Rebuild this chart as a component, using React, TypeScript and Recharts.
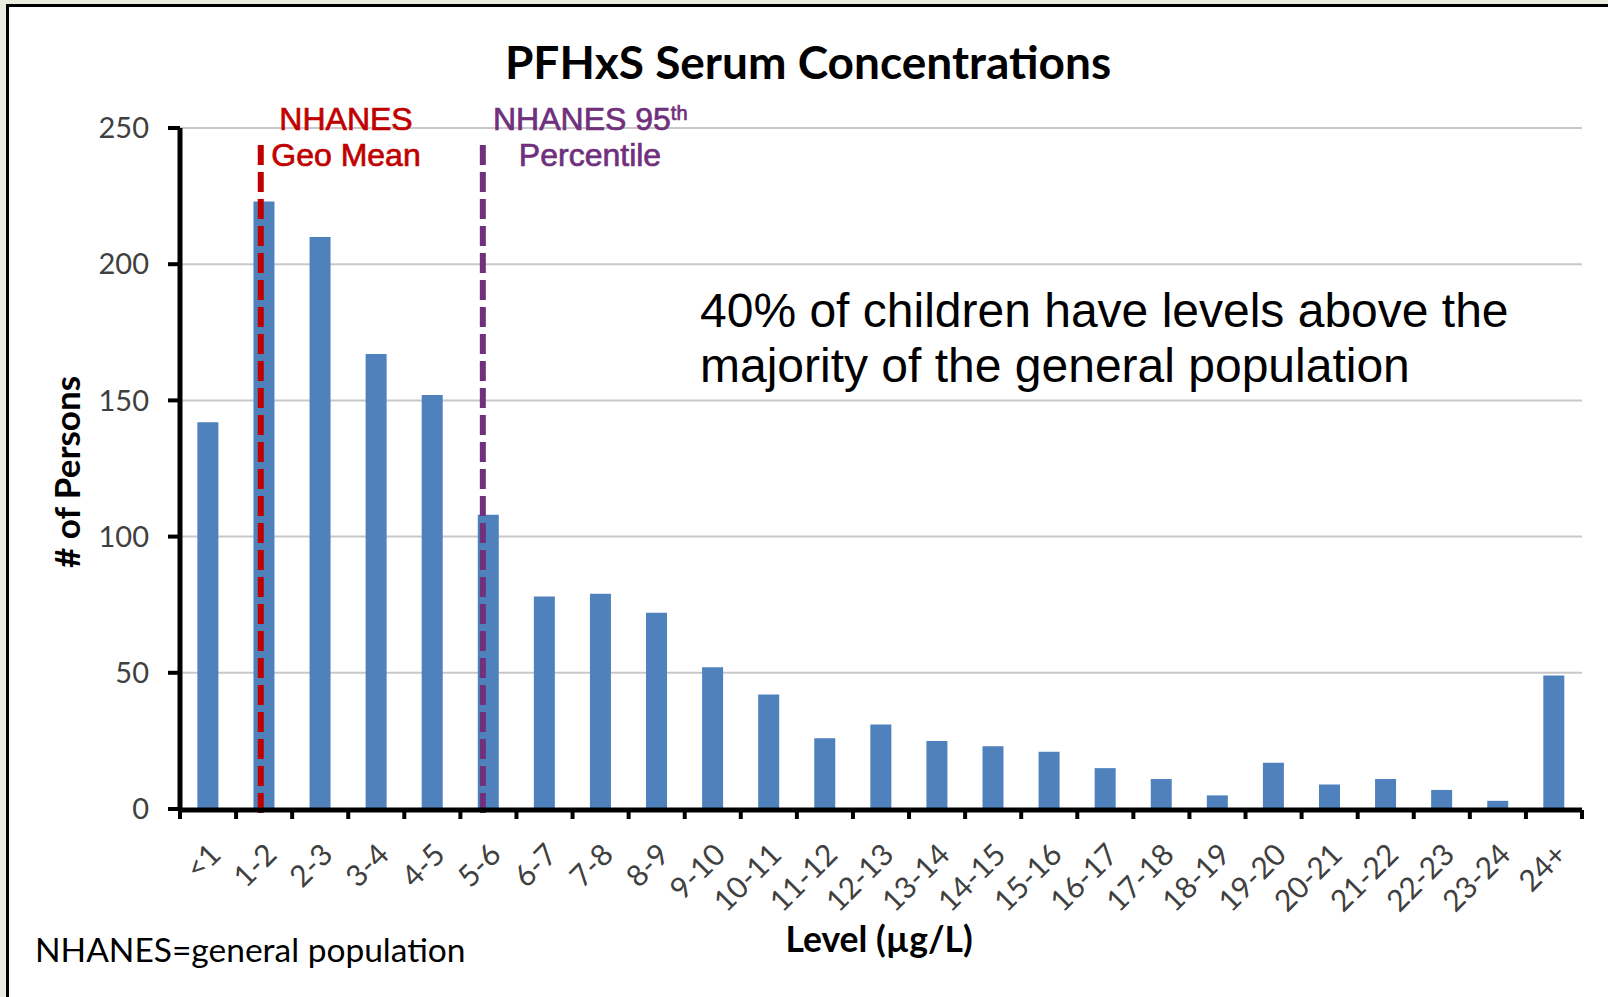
import { Bar, BarChart, CartesianGrid, ReferenceLine, XAxis, YAxis } from "recharts";

const levels = ["<1", "1-2", "2-3", "3-4", "4-5", "5-6", "6-7", "7-8", "8-9", "9-10", "10-11", "11-12", "12-13", "13-14", "14-15", "15-16", "16-17", "17-18", "18-19", "19-20", "20-21", "21-22", "22-23", "23-24", "24+"];
const persons = [142, 223, 210, 167, 152, 108, 78, 79, 72, 52, 42, 26, 31, 25, 23, 21, 15, 11, 5, 17, 9, 11, 7, 3, 49];
const yTicks = [0, 50, 100, 150, 200, 250];
const binEdges = Array.from({ length: levels.length + 1 }, (_, i) => i);
const geoMean = 1.44;
const pct95 = 5.4;

// bin centre on a 0..25 numeric scale, used only by the bin-edge axis
const data = levels.map((range, i) => ({ range, persons: persons[i], mid: i + 0.5 }));

const calibri = "Lato, 'Open Sans', sans-serif";
const arial = "'Liberation Sans', Arial, sans-serif";

function LevelTick({ x, y, payload }: any) {
	const tx = x + 6;
	return (
		<text x={tx} y={y} dy="0.4em" transform={`rotate(-45 ${tx} ${y})`} textAnchor="end" fontFamily={calibri} fontSize={30} fill="#404040">
			{payload.value}
		</text>
	);
}

const NoLabel = () => <g />;

export default function App() {
	return (
		<div style={{ position: "absolute", left: 0, top: 0, width: 1608, height: 997, background: "#EBEBE0", overflow: "hidden" }}>
			<div style={{ position: "absolute", left: 6, top: 4, width: 1700, height: 1100, background: "#fff", borderLeft: "3px solid #000", borderTop: "3px solid #000" }} />
			<div style={{ position: "absolute", left: 0, top: 0 }}>
				<BarChart width={1608} height={997} data={data} margin={{ top: 128, right: 26, bottom: 186, left: 0 }} barCategoryGap="31%">
					<CartesianGrid vertical={false} stroke="#C8C8C8" strokeWidth={2} />
					<YAxis domain={[0, 250]} ticks={yTicks} width={180} tickSize={12} tickMargin={19} axisLine={{ stroke: "#000", strokeWidth: 5 }} tickLine={{ stroke: "#000", strokeWidth: 4 }} tick={{ fontFamily: calibri, fontSize: 29, fill: "#404040" }} />
					<XAxis xAxisId="num" dataKey="mid" type="number" domain={[0, 25]} allowDataOverflow ticks={binEdges} tick={<NoLabel />} height={1} tickSize={9} axisLine={{ stroke: "#000", strokeWidth: 5 }} tickLine={{ stroke: "#000", strokeWidth: 4 }} />
					<XAxis dataKey="range" height={1} interval={0} tickSize={0} tickMargin={39} tickLine={false} axisLine={false} tick={<LevelTick />} />
					<Bar dataKey="persons" fill="#4F81BD" isAnimationActive={false} />
					<ReferenceLine xAxisId="num" segment={[{ x: geoMean, y: -1.5 }, { x: geoMean, y: 244 }]} ifOverflow="visible" stroke="#C00000" strokeWidth={6} strokeDasharray="20 7" />
					<ReferenceLine xAxisId="num" segment={[{ x: pct95, y: -1.5 }, { x: pct95, y: 245.5 }]} ifOverflow="visible" stroke="#70307C" strokeWidth={6} strokeDasharray="20 7" />

					<text x={808} y={79} textAnchor="middle" fontFamily={calibri} fontWeight={700} fontSize={46} fill="#000">PFHxS Serum Concentrations</text>

					<text x={346} y={130} textAnchor="middle" fontFamily={arial} fontSize={32} fill="#C00000" stroke="#C00000" strokeWidth={0.7}>NHANES</text>
					<text x={346} y={166} textAnchor="middle" fontFamily={arial} fontSize={32} fill="#C00000" stroke="#C00000" strokeWidth={0.7}>Geo Mean</text>
					<text x={493} y={130} textAnchor="start" fontFamily={arial} fontSize={32} fill="#70307C" stroke="#70307C" strokeWidth={0.7}>
						NHANES 95<tspan fontSize={20} dy={-10}>th</tspan>
					</text>
					<text x={590} y={166} textAnchor="middle" fontFamily={arial} fontSize={32} fill="#70307C" stroke="#70307C" strokeWidth={0.7}>Percentile</text>

					<text x={700} y={327} fontFamily={arial} fontSize={48} fill="#000">40% of children have levels above the</text>
					<text x={700} y={382} fontFamily={arial} fontSize={48} fill="#000">majority of the general population</text>

					<text transform="translate(80 472) rotate(-90)" textAnchor="middle" fontFamily={calibri} fontWeight={700} fontSize={35} fill="#000"># of Persons</text>
					<text x={879} y={952} textAnchor="middle" fontFamily={calibri} fontWeight={700} fontSize={35.5} fill="#000">Level (µg/L)</text>
					<text x={35} y={962} fontFamily={calibri} fontSize={33.5} fill="#000">NHANES=general population</text>
				</BarChart>
			</div>
		</div>
	);
}
